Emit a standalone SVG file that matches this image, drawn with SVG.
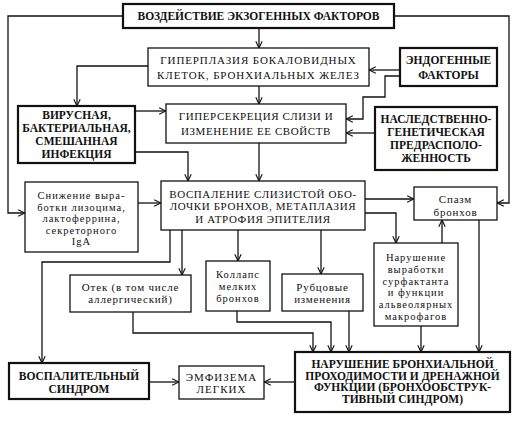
<svg xmlns="http://www.w3.org/2000/svg" width="532" height="430" viewBox="0 0 532 430">
<defs>
<marker id="ah" viewBox="0 0 10 10" refX="9.5" refY="5" markerWidth="8" markerHeight="8" markerUnits="userSpaceOnUse" orient="auto">
<path d="M1,1 L9.5,5 L1,9" fill="none" stroke="#111" stroke-width="1.4"/>
</marker>
</defs>
<style>
.thin{fill:#fff;stroke:#111;stroke-width:1.3}
.thick{fill:#fff;stroke:#111;stroke-width:2.2}
.c{fill:none;stroke:#111;stroke-width:1.3}
text{font-family:"Liberation Serif","DejaVu Serif",serif;fill:#111;text-anchor:middle}
.cap{font-size:11px;letter-spacing:0.6px}
.cap2{font-size:11px;letter-spacing:0.9px}
.b{font-size:11.5px;font-weight:bold}
.lc{font-size:11px;letter-spacing:0.8px}
.ls{font-size:10.5px;letter-spacing:1px}
</style>
<rect width="532" height="430" fill="#fff"/>
<g id="connectors">
<path class="c" d="M123,16 H8 V213 H25" marker-end="url(#ah)"/>
<path class="c" d="M394,16 H509 V203 H497" marker-end="url(#ah)"/>
<path class="c" d="M259,28 V48" marker-end="url(#ah)"/>
<path class="c" d="M400,70 H369" marker-end="url(#ah)"/>
<path class="c" d="M400,76 H385 V97 H363 V119 H346" marker-end="url(#ah)"/>
<path class="c" d="M148,66 H77 V106" marker-end="url(#ah)"/>
<path class="c" d="M259,86 V104" marker-end="url(#ah)"/>
<path class="c" d="M135,111 H166" marker-end="url(#ah)"/>
<path class="c" d="M375,133 H346" marker-end="url(#ah)"/>
<path class="c" d="M135,152 H188 V181" marker-end="url(#ah)"/>
<path class="c" d="M259,143 V181" marker-end="url(#ah)"/>
<path class="c" d="M138,203 H161" marker-end="url(#ah)"/>
<path class="c" d="M365,199 H414" marker-end="url(#ah)"/>
<path class="c" d="M365,213 H396 V243" marker-end="url(#ah)"/>
<path class="c" d="M442,243 V220" marker-end="url(#ah)"/>
<path class="c" d="M479,220 V352" marker-end="url(#ah)"/>
<path class="c" d="M421,326 V352" marker-end="url(#ah)"/>
<path class="c" d="M170,230 V262 H42 V363" marker-end="url(#ah)"/>
<path class="c" d="M182,230 V275" marker-end="url(#ah)"/>
<path class="c" d="M238,230 V261" marker-end="url(#ah)"/>
<path class="c" d="M321,230 V274" marker-end="url(#ah)"/>
<path class="c" d="M133,312 V333 H313 V352" marker-end="url(#ah)"/>
<path class="c" d="M237,311 V322 H331 V352" marker-end="url(#ah)"/>
<path class="c" d="M349,311 V352" marker-end="url(#ah)"/>
<path class="c" d="M149,382 H179" marker-end="url(#ah)"/>
<path class="c" d="M295,382 H264" marker-end="url(#ah)"/>
</g>
<g id="exo">
<rect class="thick" x="123" y="4" width="271" height="24"/>
<text class="b" x="258.5" y="20">ВОЗДЕЙСТВИЕ ЭКЗОГЕННЫХ ФАКТОРОВ</text>
</g>
<g id="hyperplasia">
<rect class="thin" x="148" y="48" width="221" height="38"/>
<text class="cap2" x="258.5" y="64">ГИПЕРПЛАЗИЯ БОКАЛОВИДНЫХ</text>
<text class="cap2" x="258.5" y="79">КЛЕТОК, БРОНХИАЛЬНЫХ ЖЕЛЕЗ</text>
</g>
<g id="endo">
<rect class="thick" x="400" y="48" width="97" height="38"/>
<text class="b" x="448.5" y="64">ЭНДОГЕННЫЕ</text>
<text class="b" x="448.5" y="79">ФАКТОРЫ</text>
</g>
<g id="infection">
<rect class="thick" x="18" y="106" width="117" height="57"/>
<text class="b" x="76.5" y="119">ВИРУСНАЯ,</text>
<text class="b" x="76.5" y="132">БАКТЕРИАЛЬНАЯ,</text>
<text class="b" x="76.5" y="145">СМЕШАННАЯ</text>
<text class="b" x="76.5" y="158">ИНФЕКЦИЯ</text>
</g>
<g id="hypersecretion">
<rect class="thin" x="166" y="104" width="180" height="39"/>
<text class="cap" x="256" y="120">ГИПЕРСЕКРЕЦИЯ СЛИЗИ И</text>
<text class="cap" x="256" y="135">ИЗМЕНЕНИЕ ЕЕ СВОЙСТВ</text>
</g>
<g id="heredity">
<rect class="thick" x="375" y="107" width="122" height="63"/>
<text class="b" x="436" y="123">НАСЛЕДСТВЕННО-</text>
<text class="b" x="436" y="136">ГЕНЕТИЧЕСКАЯ</text>
<text class="b" x="436" y="149">ПРЕДРАСПОЛО-</text>
<text class="b" x="436" y="162">ЖЕННОСТЬ</text>
</g>
<g id="inflammation">
<rect class="thin" x="161" y="181" width="204" height="49"/>
<text class="cap" x="263" y="197.5">ВОСПАЛЕНИЕ СЛИЗИСТОЙ ОБО-</text>
<text class="cap" x="263" y="210">ЛОЧКИ БРОНХОВ, МЕТАПЛАЗИЯ</text>
<text class="cap" x="263" y="222.5">И АТРОФИЯ ЭПИТЕЛИЯ</text>
</g>
<g id="lysozyme">
<rect class="thin" x="25" y="182" width="113" height="70"/>
<text class="ls" x="81.5" y="199">Снижение выра-</text>
<text class="ls" x="81.5" y="210.5">ботки лизоцима,</text>
<text class="ls" x="81.5" y="222">лактоферрина,</text>
<text class="ls" x="81.5" y="233.5">секреторного</text>
<text class="ls" x="81.5" y="245">IgA</text>
</g>
<g id="spasm">
<rect class="thin" x="414" y="187" width="83" height="33"/>
<text class="lc" x="455.5" y="202.5">Спазм</text>
<text class="lc" x="455.5" y="215.5">бронхов</text>
</g>
<g id="surfactant">
<rect class="thin" x="374" y="243" width="84" height="83"/>
<text class="ls" x="416" y="261">Нарушение</text>
<text class="ls" x="416" y="272.8">выработки</text>
<text class="ls" x="416" y="284.6">сурфактанта</text>
<text class="ls" x="416" y="296.4">и функции</text>
<text class="ls" x="416" y="308.2">альвеолярных</text>
<text class="ls" x="416" y="320">макрофагов</text>
</g>
<g id="edema">
<rect class="thin" x="70" y="275" width="121" height="37"/>
<text class="lc" x="130.5" y="290.5">Отек (в том числе</text>
<text class="lc" x="130.5" y="303">аллергический)</text>
</g>
<g id="collapse">
<rect class="thin" x="206" y="261" width="64" height="50"/>
<text class="ls" x="238" y="277.5">Коллапс</text>
<text class="ls" x="238" y="289.5">мелких</text>
<text class="ls" x="238" y="301.5">бронхов</text>
</g>
<g id="scar">
<rect class="thin" x="282" y="274" width="81" height="37"/>
<text class="lc" x="322.5" y="290.5">Рубцовые</text>
<text class="lc" x="322.5" y="303">изменения</text>
</g>
<g id="obstruction">
<rect class="thick" x="295" y="352" width="215" height="60"/>
<text class="b" x="402.5" y="368">НАРУШЕНИЕ БРОНХИАЛЬНОЙ</text>
<text class="b" x="402.5" y="379.5">ПРОХОДИМОСТИ И ДРЕНАЖНОЙ</text>
<text class="b" x="402.5" y="391">ФУНКЦИИ (БРОНХООБСТРУК-</text>
<text class="b" x="402.5" y="402.5">ТИВНЫЙ СИНДРОМ)</text>
</g>
<g id="inflamm-syndrome">
<rect class="thick" x="9" y="363" width="140" height="36"/>
<text class="b" x="79" y="380">ВОСПАЛИТЕЛЬНЫЙ</text>
<text class="b" x="79" y="393">СИНДРОМ</text>
</g>
<g id="emphysema">
<rect class="thin" x="179" y="366" width="85" height="33"/>
<text class="cap" x="221.5" y="381" style="letter-spacing:1px">ЭМФИЗЕМА</text>
<text class="cap" x="221.5" y="393" style="letter-spacing:1px">ЛЕГКИХ</text>
</g>
</svg>
